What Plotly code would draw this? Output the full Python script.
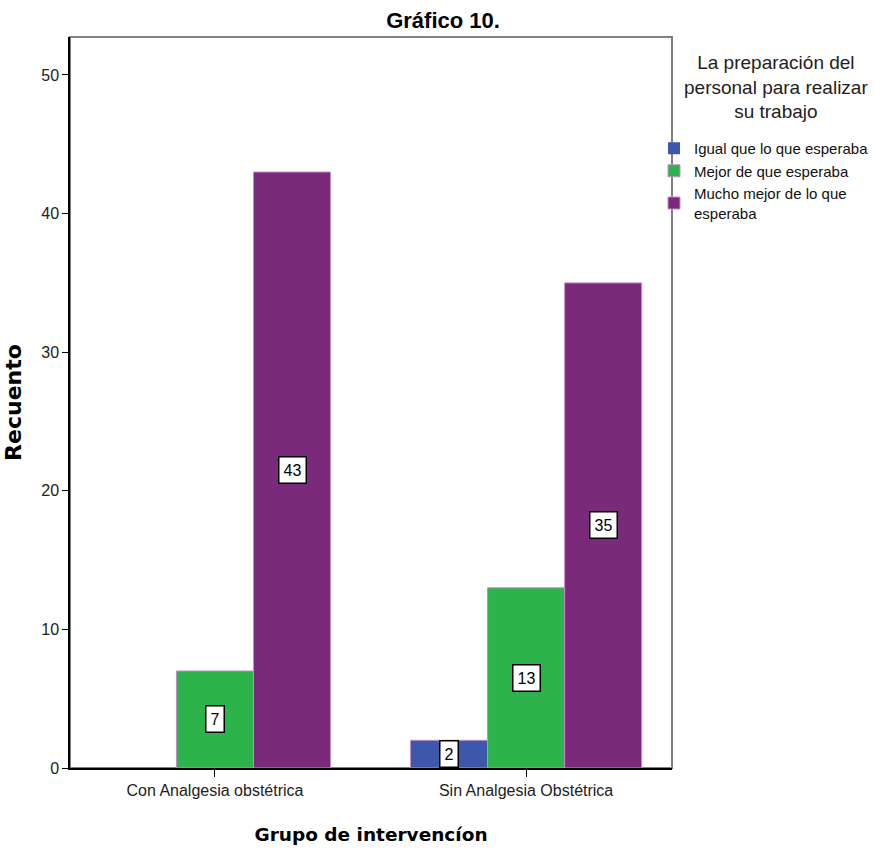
import plotly.graph_objects as go

# Survey counts per intervention group
groups = ["Con Analgesia obstétrica", "Sin Analgesia Obstétrica"]
series_names = [
    "Igual que lo que esperaba",
    "Mejor de que esperaba",
    "Mucho mejor de lo que<br>esperaba",
]
igual = [0, 2]
mejor = [7, 13]
mucho_mejor = [43, 35]
y_ticks = [0, 10, 20, 30, 40, 50]

colors = ["#3d57aa", "#2db34b", "#7b2a7b"]
edge = "#c68cc6"
font_family = "Liberation Sans, Arial, sans-serif"
bold_family = "DejaVu Sans, Verdana, sans-serif"

# Plot-area geometry in pixels
W, H = 875, 851
M_L, M_R, M_T, M_B = 70, 203, 37, 83
PW, PH = W - M_L - M_R, H - M_T - M_B


def paper_x(px):
    return (px - M_L) / PW


def paper_y(py):
    return (H - M_B - py) / PH


bargap = 0.257
x_pos = list(range(len(groups)))
series_values = [igual, mejor, mucho_mejor]

fig = go.Figure()
for name, vals, col in zip(series_names, series_values, colors):
    fig.add_trace(go.Bar(
        x=x_pos, y=vals, name=name,
        marker=dict(color=col,
                    line=dict(color=edge, width=[0 if v == 0 else 1 for v in vals])),
        hoverinfo="y+name",
    ))

# Boxed value labels centred in each non-zero bar
bar_w = (1 - bargap) / len(series_values)
for i, vals in enumerate(series_values):
    offset = (i - (len(series_values) - 1) / 2) * bar_w
    for xi, v in zip(x_pos, vals):
        if v == 0:
            continue
        fig.add_annotation(
            x=xi + offset, y=v / 2, xref="x", yref="y",
            text=str(v), showarrow=False,
            font=dict(family=font_family, size=16, color="black"),
            bgcolor="white", bordercolor="black", borderwidth=1.5, borderpad=4,
        )

# Legend heading
fig.add_annotation(
    xref="paper", yref="paper", x=paper_x(776), y=paper_y(50),
    xanchor="center", yanchor="top",
    text="La preparación del<br>personal para realizar<br>su trabajo",
    showarrow=False, align="center",
    font=dict(family=font_family, size=19, color="#222222"),
)

# Grey frame around plot area
fig.add_shape(type="rect", xref="paper", yref="paper", x0=0, x1=1, y0=0, y1=1,
              line=dict(color="#808080", width=2), layer="below")

fig.update_layout(
    width=W, height=H,
    margin=dict(l=M_L, r=M_R, t=M_T, b=M_B, autoexpand=False),
    paper_bgcolor="white", plot_bgcolor="white",
    barmode="group", bargap=bargap, bargroupgap=0,
    font=dict(family=font_family, size=15, color="#222222"),
    title=dict(text="<b>Gráfico 10.</b>", x=443 / W, xanchor="center", y=1 - 20 / H, yanchor="middle",
               font=dict(family=font_family, size=22, color="black")),
    showlegend=True,
    legend=dict(
        xref="container", yref="container",
        x=654 / W, xanchor="left", y=1 - 132 / H, yanchor="top",
        font=dict(family=font_family, size=15, color="#111111"),
        bgcolor="rgba(0,0,0,0)", tracegroupgap=0, itemwidth=30,
    ),
    xaxis=dict(
        range=[-0.466, 1.469], tickmode="array", tickvals=x_pos, ticktext=groups,
        showgrid=False, zeroline=False, showline=True, linecolor="black", linewidth=1.5,
        ticks="outside", ticklen=7, tickcolor="black",
        tickfont=dict(family=font_family, size=16, color="#222222"),
        title=dict(text="<b>Grupo de intervencíon</b>", standoff=30,
                   font=dict(family=bold_family, size=18.5, color="black")),
    ),
    yaxis=dict(
        range=[0, 52.74], tickmode="array", tickvals=y_ticks,
        showgrid=False, zeroline=False, showline=True, linecolor="black", linewidth=1.5,
        ticks="outside", ticklen=6, tickcolor="black",
        tickfont=dict(family=font_family, size=16, color="#222222"),
        title=dict(text="<b>Recuento</b>", standoff=14,
                   font=dict(family=bold_family, size=22, color="black")),
    ),
)

fig.write_html("out.html")
